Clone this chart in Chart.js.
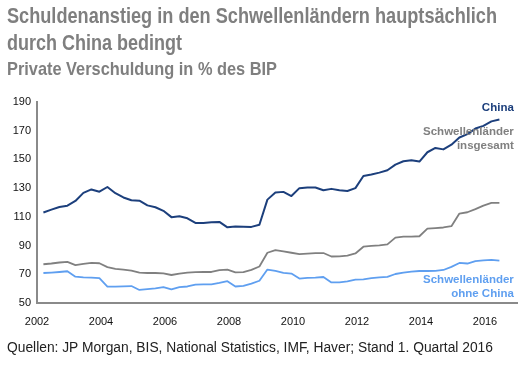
<!DOCTYPE html>
<html>
<head>
<meta charset="utf-8">
<script src="https://cdn.jsdelivr.net/npm/chart.js@4"></script>
<style>
	body { margin: 0; background: #fff; }
	#wrap { position: relative; width: 525px; height: 366px; overflow: hidden; }
	#chart { position: absolute; left: 0; top: 0; }
	.title { position: absolute; left: 7px; font-family: "Liberation Sans", Arial, sans-serif; font-weight: bold; color: #7f7f7f; white-space: nowrap; transform-origin: 0 0; }
	.big { font-size: 22px; line-height: 25px; }
	#t1 { top: 3px; }
	#t2 { top: 30px; }
	#t3 { top: 58px; font-size: 19px; line-height: 21px; }
	#source { position: absolute; left: 7px; top: 340px; font-family: "Liberation Sans", Arial, sans-serif; font-size: 13.8px; color: #222; white-space: nowrap; }
</style>
</head>
<body>
<div id="wrap">
	<canvas id="chart" width="525" height="366"></canvas>
	<div class="title big" id="t1">Schuldenanstieg in den Schwellenländern hauptsächlich</div>
	<div class="title big" id="t2">durch China bedingt</div>
	<div class="title" id="t3">Private Verschuldung in % des BIP</div>
	<div id="source">Quellen: JP Morgan, BIS, National Statistics, IMF, Haver; Stand 1. Quartal 2016</div>
</div>
<script>
// quarters 2002Q1 .. 2016Q2
const quarters = [
	'2002Q1','2002Q2','2002Q3','2002Q4','2003Q1','2003Q2','2003Q3','2003Q4',
	'2004Q1','2004Q2','2004Q3','2004Q4','2005Q1','2005Q2','2005Q3','2005Q4',
	'2006Q1','2006Q2','2006Q3','2006Q4','2007Q1','2007Q2','2007Q3','2007Q4',
	'2008Q1','2008Q2','2008Q3','2008Q4','2009Q1','2009Q2','2009Q3','2009Q4',
	'2010Q1','2010Q2','2010Q3','2010Q4','2011Q1','2011Q2','2011Q3','2011Q4',
	'2012Q1','2012Q2','2012Q3','2012Q4','2013Q1','2013Q2','2013Q3','2013Q4',
	'2014Q1','2014Q2','2014Q3','2014Q4','2015Q1','2015Q2','2015Q3','2015Q4',
	'2016Q1','2016Q2'
];

const china = [
	113, 115, 116.9, 117.8, 121.1, 126.7, 129.1, 127.5,
	130.8, 126.5, 123.5, 121.6, 121.3, 118, 116.7, 114.2,
	109.8, 110.4, 109, 105.8, 105.8, 106.3, 106.5, 102.7,
	103.3, 103.1, 103, 104.5, 122, 127, 127.4, 124.5,
	130, 130.4, 130.4, 128.5, 129.5, 128.5, 128, 130,
	138.5, 139.5, 140.8, 142.5, 146.4, 148.7, 149.4, 148.5,
	155, 158, 157, 160.3, 165.3, 167.6, 171.5, 173.4,
	176.5, 177.8
];

const emTotal = [
	77, 77.5, 78.2, 78.6, 76.4, 77.2, 77.9, 77.7,
	75, 73.8, 73.2, 72.6, 71.1, 70.9, 70.9, 70.6,
	69.5, 70.4, 71.2, 71.5, 71.6, 71.6, 72.9, 73.3,
	71.4, 71.5, 73.1, 75.4, 85, 86.8, 86, 85,
	84, 84.4, 84.8, 84.8, 82.4, 82.5, 83, 84.5,
	89.2, 89.8, 90.2, 90.8, 95.5, 96.2, 96.3, 96.5,
	101.8, 102.2, 102.6, 103.5, 112.3, 113.2, 115.4, 117.8,
	119.7, 119.7
];

const emExChina = [
	70.9, 71.2, 71.6, 72.1, 68.3, 67.8, 67.7, 67.3,
	61.4, 61.4, 61.6, 61.8, 59.1, 59.6, 60.2, 61,
	59.5, 61, 61.5, 62.8, 63, 63, 64, 65.2,
	61.5, 61.9, 63.5, 65.5, 73.3, 72.3, 71, 70.5,
	67, 67.5, 67.7, 68.1, 64.3, 64.4, 65.1, 66.3,
	66.5, 67.3, 67.8, 68.2, 70.2, 71.1, 71.8, 72.3,
	72.3, 72.4, 73, 75.2, 77.9, 77.5, 79.2, 79.7,
	80, 79.5
];

const yTicks = [50, 70, 90, 110, 130, 150, 170, 190];
const xTicks = [2002, 2004, 2006, 2008, 2010, 2012, 2014, 2016];

const colors = {
	china: '#1c3f7c',
	total: '#808080',
	exChina: '#5f9ff0',
	axis: '#8a8a8a'
};

// series labels drawn beside the lines
const seriesLabels = [
	{ lines: ['China'], x: 2016.9, y: 185.9, color: colors.china },
	{ lines: ['Schwellenländer', 'insgesamt'], x: 2016.9, y: 168.9, color: colors.total },
	{ lines: ['Schwellenländer', 'ohne China'], x: 2016.9, y: 65.8, color: colors.exChina }
];

// squeeze the heading to the condensed width of the original
function condense(id, targetWidth) {
	const el = document.getElementById(id);
	const w = el.getBoundingClientRect().width;
	el.style.transform = 'scaleX(' + (targetWidth / w) + ')';
}
condense('t1', 490);
condense('t2', 175);
condense('t3', 270);

function quarterToX(q) {
	const year = parseInt(q.slice(0, 4), 10);
	const n = parseInt(q.slice(5), 10);
	return year + (n - 1) * 0.25 + 0.2;
}

function points(values) {
	return values.map(function(v, i) { return { x: quarterToX(quarters[i]), y: v }; });
}

const labelPlugin = {
	id: 'seriesLabels',
	afterDatasetsDraw(chart) {
		const ctx = chart.ctx;
		const xs = chart.scales.x;
		const ys = chart.scales.y;
		ctx.save();
		ctx.font = 'bold 11.5px "Liberation Sans", Arial, sans-serif';
		ctx.textAlign = 'right';
		ctx.textBaseline = 'middle';
		seriesLabels.forEach(function(l) {
			ctx.fillStyle = l.color;
			const px = xs.getPixelForValue(l.x);
			const py = ys.getPixelForValue(l.y);
			l.lines.forEach(function(t, i) {
				ctx.fillText(t, px, py + i * 13.5);
			});
		});
		ctx.restore();
	}
};

const ctx = document.getElementById('chart').getContext('2d');

new Chart(ctx, {
	type: 'line',
	data: {
		datasets: [
			{ label: 'China', data: points(china), borderColor: colors.china, borderWidth: 2 },
			{ label: 'Schwellenländer insgesamt', data: points(emTotal), borderColor: colors.total, borderWidth: 1.8 },
			{ label: 'Schwellenländer ohne China', data: points(emExChina), borderColor: colors.exChina, borderWidth: 1.8 }
		]
	},
	options: {
		responsive: false,
		animation: false,
		events: [],
		elements: {
			point: { radius: 0 },
			line: { tension: 0, borderJoinStyle: 'round' }
		},
		layout: {
			padding: { top: 102, right: 8, bottom: 33, left: 0 }
		},
		plugins: {
			legend: { display: false },
			tooltip: { enabled: false }
		},
		scales: {
			x: {
				type: 'linear',
				min: 2002,
				max: 2017,
				afterBuildTicks: function(scale) {
					scale.ticks = xTicks.map(function(v) { return { value: v }; });
				},
				afterFit: function(scale) { scale.height = 30; },
				ticks: {
					color: '#111',
					font: { family: '"Liberation Sans", Arial, sans-serif', size: 11 },
					padding: 12,
					maxRotation: 0,
					callback: function(v) { return String(v); }
				},
				grid: { display: false, drawTicks: false },
				border: { display: true, color: colors.axis, width: 2 }
			},
			y: {
				min: 50,
				max: 190,
				afterBuildTicks: function(scale) {
					scale.ticks = yTicks.map(function(v) { return { value: v }; });
				},
				afterFit: function(scale) { scale.width = 37; },
				ticks: {
					color: '#111',
					font: { family: '"Liberation Sans", Arial, sans-serif', size: 11 },
					padding: 6
				},
				grid: { display: false, drawTicks: false },
				border: { display: true, color: colors.axis, width: 2 }
			}
		}
	},
	plugins: [labelPlugin]
});
</script>
</body>
</html>
